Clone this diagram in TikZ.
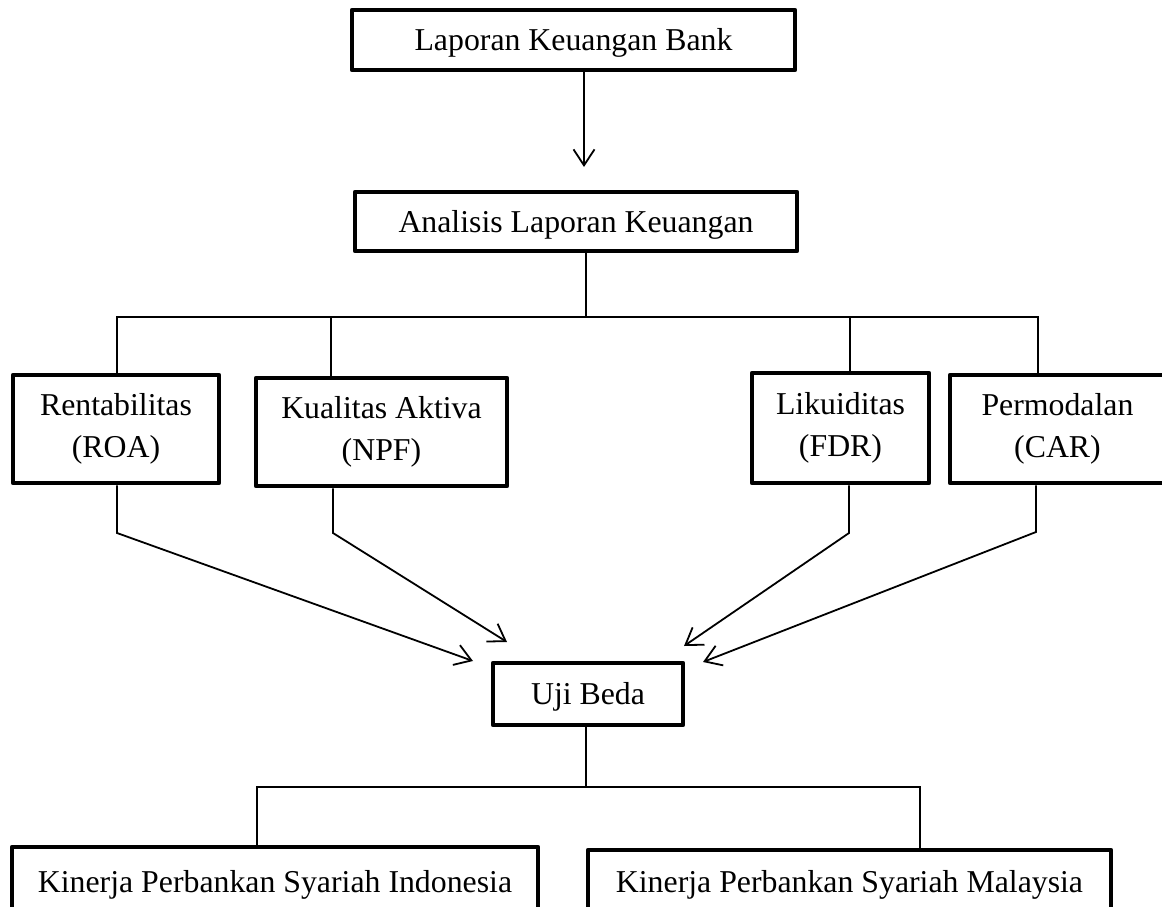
\documentclass[tikz,border=0pt]{standalone}
\usepackage{fontspec}
\setmainfont{Liberation Serif}
\usetikzlibrary{arrows.meta}
\begin{document}
\begin{tikzpicture}[x=1pt,y=-1pt,
  box/.style={draw=black, line width=4.5pt, line join=round, fill=white, inner sep=0pt,
    font=\fontsize{31.8}{42}\selectfont},
  onebox/.style={box, text height=21pt, text depth=0pt},
  twobox/.style={box, align=center},
  conn/.style={draw=black, line width=1.8pt},
  arr/.style={conn, -{Straight Barb[length=16pt, width=21pt, line width=1.8pt]}}
]
\useasboundingbox (0,0) rectangle (1162,907);

% junction coordinates
\coordinate (t1) at (584,167);
\coordinate (j0) at (586,317);
\coordinate (hR1) at (117,317);
\coordinate (hK1) at (331,317);
\coordinate (hF1) at (850,317);
\coordinate (hC1) at (1038,317);
\coordinate (bR) at (117,533);
\coordinate (bK) at (333,533);
\coordinate (bF) at (849,533);
\coordinate (bC) at (1036,532);
\coordinate (tR) at (473,661);
\coordinate (tK) at (507,642);
\coordinate (tF) at (684,646);
\coordinate (tC) at (703,662);
\coordinate (j2) at (586,787);
\coordinate (bl) at (257,787);
\coordinate (br) at (920,787);

% boxes
\node[onebox, minimum width=443pt, minimum height=60pt] (top) at (573.5,40) {Laporan Keuangan Bank};
\node[onebox, minimum width=442pt, minimum height=59pt] (ana) at (576,221.5) {Analisis Laporan Keuangan};
\node[twobox, minimum width=206pt, minimum height=108pt] (rent) at (116,429) {Rentabilitas\\(ROA)};
\node[twobox, minimum width=251pt, minimum height=108pt] (kual) at (381.5,432) {Kualitas Aktiva\\(NPF)};
\node[twobox, minimum width=177pt, minimum height=110pt] (likd) at (840.5,428) {Likuiditas\\(FDR)};
\node[twobox, minimum width=215pt, minimum height=108pt] (perm) at (1057.5,429) {Permodalan\\(CAR)};
\node[onebox, minimum width=190pt, minimum height=62pt] (uji) at (588,694) {Uji Beda};
\node[onebox, minimum width=526pt, minimum height=69pt] (indo) at (275,881.5) {Kinerja Perbankan Syariah Indonesia};
\node[onebox, minimum width=523pt, minimum height=64pt] (mal) at (849.5,882) {Kinerja Perbankan Syariah Malaysia};

% connectors
\draw[arr] (top.south -| t1) -- (t1);
\draw[conn] (ana.south -| j0) -- (j0);
\draw[conn] (rent.north -| hR1) -- (hR1) -- (hC1) -- (perm.north -| hC1);
\draw[conn] (hK1) -- (kual.north -| hK1);
\draw[conn] (hF1) -- (likd.north -| hF1);
\draw[arr] (rent.south -| bR) -- (bR) -- (tR);
\draw[arr] (kual.south -| bK) -- (bK) -- (tK);
\draw[arr] (likd.south -| bF) -- (bF) -- (tF);
\draw[arr] (perm.south -| bC) -- (bC) -- (tC);
\draw[conn] (uji.south -| j2) -- (j2);
\draw[conn] (indo.north -| bl) -- (bl) -- (br) -- (mal.north -| br);
\end{tikzpicture}
\end{document}
